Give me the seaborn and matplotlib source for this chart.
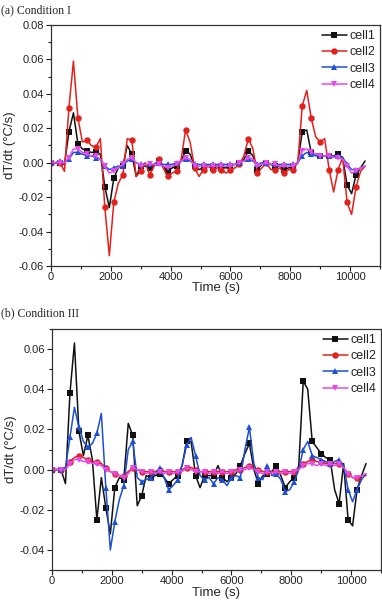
import matplotlib
matplotlib.use("Agg")
import matplotlib.pyplot as plt
import numpy as np
import pandas as pd
import seaborn as sns
from matplotlib.ticker import MultipleLocator, AutoMinorLocator, FormatStrFormatter

sns.set_style("ticks")
plt.rcParams["font.family"] = ["Liberation Sans", "DejaVu Sans"]

# time grid (s), one reading every 150 s
time_s = np.arange(0, 10501, 150)

# ---- (a) Condition I ----
a_cell1 = [0.000, 0.000, 0.000, -0.001, 0.018, 0.029, 0.011, 0.008, 0.007, 0.006,
           0.006, 0.005, -0.014, -0.026, -0.009, -0.003, -0.002, 0.010, 0.005, -0.008,
           -0.002, -0.002, -0.003, -0.001, 0.001, -0.002, -0.005, -0.003, -0.002, 0.001,
           0.007, 0.005, -0.002, -0.004, -0.003, -0.002, -0.003, -0.002, -0.003, -0.003,
           -0.002, -0.001, 0.000, 0.002, 0.007, 0.004, -0.004, -0.001, 0.000, -0.001,
           -0.002, -0.002, -0.004, -0.003, -0.002, 0.000, 0.018, 0.019, 0.006, 0.005,
           0.004, 0.004, 0.004, 0.004, 0.005, 0.003, -0.013, -0.018, -0.007, -0.003,
           0.001]
a_cell2 = [0.000, 0.000, 0.000, -0.005, 0.032, 0.059, 0.026, 0.012, 0.013, 0.010,
           0.009, 0.014, -0.026, -0.054, -0.023, -0.012, -0.007, 0.014, 0.013, -0.008,
           -0.005, 0.000, -0.007, -0.002, 0.002, -0.003, -0.008, -0.006, -0.005, 0.002,
           0.019, 0.012, -0.003, -0.008, -0.004, -0.002, -0.004, -0.003, -0.004, -0.006,
           -0.004, -0.003, -0.001, 0.004, 0.014, 0.008, -0.006, -0.003, 0.000, -0.004,
           -0.004, -0.003, -0.006, -0.004, -0.004, 0.000, 0.033, 0.042, 0.026, 0.015,
           0.012, 0.014, -0.004, -0.017, -0.004, 0.003, -0.023, -0.030, -0.014, -0.005,
           -0.002]
a_cell3 = [0.000, 0.000, 0.001, 0.000, 0.002, 0.006, 0.006, 0.005, 0.004, 0.004,
           0.003, 0.002, -0.002, -0.004, -0.003, -0.002, -0.002, 0.001, 0.002, 0.000,
           -0.001, -0.001, -0.001, -0.001, 0.000, -0.001, -0.001, -0.001, 0.000, 0.001,
           0.002, 0.001, -0.001, -0.001, -0.001, -0.001, -0.001, -0.001, -0.001, -0.001,
           -0.001, -0.001, 0.000, 0.001, 0.002, 0.001, -0.001, 0.000, 0.000, -0.001,
           -0.001, -0.001, -0.001, -0.001, -0.001, 0.000, 0.004, 0.006, 0.005, 0.004,
           0.004, 0.004, 0.004, 0.004, 0.004, 0.003, -0.001, -0.004, -0.004, -0.003,
           -0.002]
a_cell4 = [0.000, 0.000, 0.000, 0.000, 0.003, 0.008, 0.008, 0.006, 0.005, 0.004,
           0.004, 0.002, -0.002, -0.006, -0.005, -0.003, -0.001, 0.002, 0.003, 0.000,
           -0.002, -0.001, -0.001, -0.001, -0.001, -0.002, -0.003, -0.002, -0.001, 0.001,
           0.003, 0.002, -0.002, -0.002, -0.002, -0.002, -0.002, -0.002, -0.002, -0.002,
           -0.002, -0.001, 0.000, 0.001, 0.003, 0.002, -0.002, -0.001, 0.000, -0.001,
           -0.001, -0.002, -0.002, -0.002, -0.002, 0.000, 0.007, 0.008, 0.006, 0.005,
           0.004, 0.004, 0.004, 0.003, 0.003, 0.002, -0.002, -0.006, -0.005, -0.003,
           -0.002]

# ---- (b) Condition III ----
b_cell1 = [0.000, 0.000, 0.000, -0.007, 0.038, 0.063, 0.019, 0.007, 0.017, 0.005,
           -0.025, -0.004, -0.019, -0.032, -0.009, -0.004, -0.005, 0.023, 0.017, -0.018,
           -0.013, -0.003, -0.004, -0.003, -0.002, -0.004, -0.007, -0.005, -0.003, 0.002,
           0.014, 0.014, -0.003, -0.009, -0.003, -0.003, -0.003, 0.002, -0.004, -0.006,
           -0.004, -0.002, 0.002, 0.008, 0.013, 0.000, -0.007, -0.003, -0.002, -0.001,
           0.002, -0.003, -0.009, -0.006, -0.004, 0.002, 0.044, 0.040, 0.014, 0.011,
           0.008, 0.006, 0.005, -0.010, -0.017, 0.003, -0.025, -0.028, -0.010, -0.003,
           0.003]
b_cell2 = [0.000, 0.000, 0.000, 0.001, 0.004, 0.006, 0.007, 0.006, 0.005, 0.004,
           0.004, 0.003, 0.001, -0.001, -0.002, -0.003, -0.003, -0.001, 0.001, 0.000,
           -0.001, -0.001, -0.001, -0.001, 0.000, -0.001, -0.001, -0.001, -0.001, 0.000,
           0.001, 0.001, 0.000, -0.001, -0.001, -0.001, -0.001, -0.001, -0.001, -0.001,
           -0.001, 0.000, 0.000, 0.001, 0.002, 0.001, 0.000, -0.001, -0.001, -0.001,
           -0.001, -0.001, -0.001, -0.001, -0.001, 0.001, 0.003, 0.004, 0.005, 0.004,
           0.004, 0.003, 0.003, 0.003, 0.003, 0.001, -0.002, -0.004, -0.004, -0.003,
           -0.003]
b_cell3 = [0.000, 0.000, 0.000, 0.001, 0.016, 0.031, 0.021, 0.014, 0.011, 0.013,
           0.018, 0.028, -0.009, -0.040, -0.026, -0.015, -0.008, 0.010, 0.014, -0.004,
           -0.006, -0.005, -0.004, -0.002, 0.001, -0.004, -0.010, -0.008, -0.005, 0.002,
           0.012, 0.016, 0.007, -0.003, -0.005, -0.004, -0.007, -0.004, -0.005, -0.008,
           -0.004, -0.003, -0.004, 0.010, 0.021, 0.003, -0.004, -0.005, 0.002, -0.003,
           -0.002, -0.005, -0.011, -0.010, -0.006, 0.000, 0.010, 0.014, 0.007, 0.006,
           0.005, 0.004, 0.003, 0.004, 0.005, 0.002, -0.010, -0.016, -0.010, -0.005,
           -0.002]
b_cell4 = [0.000, 0.000, 0.000, 0.000, 0.003, 0.005, 0.005, 0.004, 0.004, 0.003,
           0.003, 0.002, 0.000, -0.001, -0.002, -0.003, -0.004, -0.002, 0.001, 0.000,
           -0.001, -0.002, -0.001, -0.002, -0.001, -0.002, -0.001, -0.002, -0.001, -0.001,
           0.001, 0.000, -0.001, -0.001, -0.001, -0.002, -0.001, -0.002, -0.001, -0.002,
           -0.001, -0.001, 0.000, 0.000, 0.001, 0.000, -0.001, -0.002, -0.001, -0.002,
           -0.001, -0.002, -0.001, -0.002, -0.001, 0.000, 0.002, 0.003, 0.003, 0.002,
           0.003, 0.002, 0.003, 0.002, 0.003, 0.001, -0.002, -0.004, -0.004, -0.003,
           -0.002]

cell_names = ["cell1", "cell2", "cell3", "cell4"]
cell_colors = ["#111111", "#e3211c", "#1c4fd4", "#e549ee"]
cell_markers = ["s", "o", "^", "v"]

panels = [
    ("(a) Condition I", [a_cell1, a_cell2, a_cell3, a_cell4], (-0.06, 0.08)),
    ("(b) Condition III", [b_cell1, b_cell2, b_cell3, b_cell4], (-0.05, 0.07)),
]

W, H = 382, 603
fig = plt.figure(figsize=(W / 100, H / 100), dpi=100)
boxes = [(51, 25, 380, 266), (52, 329, 381, 570)]
title_y = [10, 313]
xlabel_pads = [-0.5, 0.5]

for (title, series, ylim), (x0, y0, x1, y1), ty, xpad in zip(panels, boxes, title_y, xlabel_pads):
    ax = fig.add_axes([x0 / W, 1 - y1 / H, (x1 - x0) / W, (y1 - y0) / H])
    for name, vals, color, mk in zip(cell_names, series, cell_colors, cell_markers):
        df = pd.DataFrame({"t": time_s, "v": vals})
        sns.lineplot(data=df, x="t", y="v", ax=ax, color=color, marker=mk,
                     markevery=slice(0, 69, 2), markersize=4.6, markeredgewidth=0,
                     linewidth=1.1, label=name)
    ax.set_xlim(0, 11000)
    ax.set_ylim(*ylim)
    ax.xaxis.set_major_locator(MultipleLocator(2000))
    ax.xaxis.set_minor_locator(AutoMinorLocator(2))
    ax.yaxis.set_major_locator(MultipleLocator(0.02))
    ax.yaxis.set_minor_locator(AutoMinorLocator(2))
    ax.yaxis.set_major_formatter(FormatStrFormatter("%.2f"))
    ax.tick_params(which="major", direction="out", length=3.5, width=0.8,
                   labelsize=8, pad=1.5, colors="#222222")
    ax.tick_params(which="minor", direction="out", length=2, width=0.8, colors="#222222")
    ax.tick_params(axis="x", which="major", pad=1.0)
    for sp in ax.spines.values():
        sp.set_visible(True)
        sp.set_linewidth(0.9)
        sp.set_color("#333333")
    ax.set_xlabel("Time (s)", fontsize=9.5, labelpad=xpad)
    ax.set_ylabel("dT/dt (°C/s)", fontsize=9.5, labelpad=2)
    ax.legend(loc="upper right", frameon=False, fontsize=9, numpoints=1,
              handlelength=2.0, handletextpad=0.2, labelspacing=0.35,
              borderaxespad=0.2, borderpad=0.2)
    fig.text(0.002, 1 - ty / H, title, fontsize=8.5, va="center", ha="left",
             family=["Liberation Serif", "DejaVu Serif"])

fig.savefig("out.png", dpi=100)
